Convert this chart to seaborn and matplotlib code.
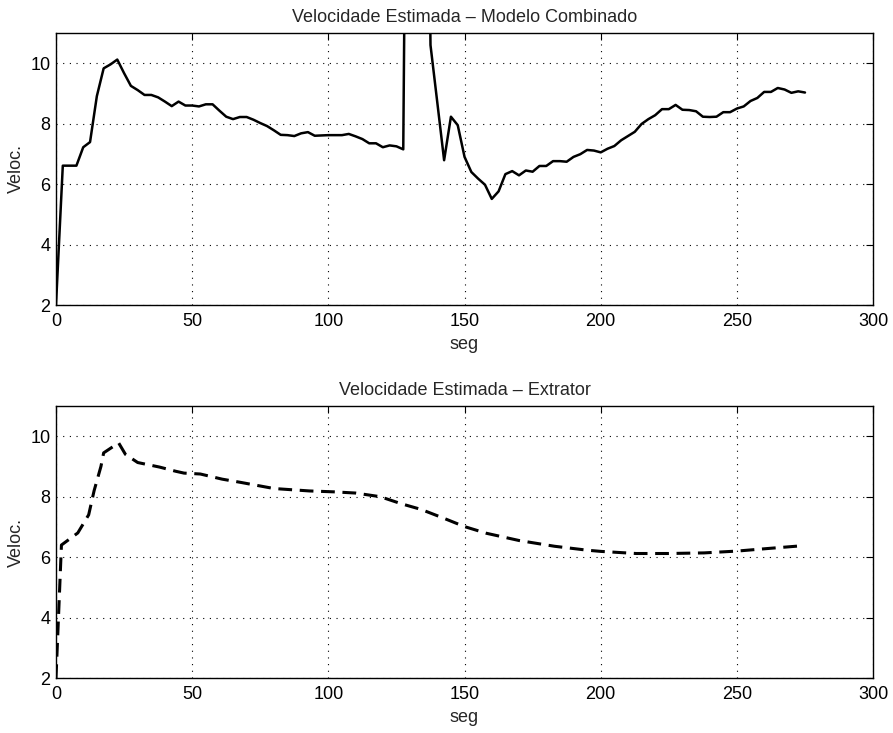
import matplotlib
matplotlib.use("Agg")
import matplotlib.pyplot as plt
import seaborn as sns
import pandas as pd

# ---- data ----
tempo_comb = [0, 2.5, 5, 7.5, 10, 12.5, 15, 17.5, 20, 22.5, 25, 27.5, 30, 32.5, 35, 37.5,
              40, 42.5, 45, 47.5, 50, 52.5, 55, 57.5, 60, 62.5, 65, 67.5, 70, 72.5, 75, 77.5,
              80, 82.5, 85, 87.5, 90, 92.5, 95, 97.5, 100, 102.5, 105, 107.5, 110, 112.5, 115,
              117.5, 120, 122.5, 125, 127.5, 130, 132.5, 135, 137.5, 140, 142.5, 145, 147.5,
              150, 152.5, 155, 157.5, 160, 162.5, 165, 167.5, 170, 172.5, 175, 177.5, 180,
              182.5, 185, 187.5, 190, 192.5, 195, 197.5, 200, 202.5, 205, 207.5, 210, 212.5,
              215, 217.5, 220, 222.5, 225, 227.5, 230, 232.5, 235, 237.5, 240, 242.5, 245,
              247.5, 250, 252.5, 255, 257.5, 260, 262.5, 265, 267.5, 270, 272.5, 275]
veloc_comb = [2.0, 6.61, 6.61, 6.61, 7.22, 7.39, 8.91, 9.83, 9.96, 10.12, 9.67, 9.25, 9.11, 8.95,
              8.95, 8.87, 8.73, 8.58, 8.73, 8.60, 8.60, 8.57, 8.64, 8.64, 8.43, 8.23, 8.15, 8.22,
              8.22, 8.13, 8.02, 7.92, 7.78, 7.63, 7.62, 7.59, 7.68, 7.72, 7.60, 7.61, 7.62, 7.62,
              7.62, 7.66, 7.58, 7.49, 7.35, 7.35, 7.22, 7.28, 7.25, 7.15, 35.0, 38.0, 30.0, 10.6,
              8.7, 6.79, 8.23, 7.95, 6.90, 6.40, 6.18, 5.98, 5.51, 5.76, 6.33, 6.43, 6.29, 6.45,
              6.41, 6.60, 6.60, 6.76, 6.76, 6.74, 6.90, 6.99, 7.13, 7.11, 7.05, 7.17, 7.26, 7.45,
              7.59, 7.73, 7.99, 8.15, 8.28, 8.48, 8.48, 8.62, 8.46, 8.45, 8.41, 8.23, 8.22, 8.23,
              8.38, 8.38, 8.50, 8.57, 8.75, 8.85, 9.05, 9.05, 9.18, 9.13, 9.02, 9.07, 9.03]

tempo_extr = [0, 2, 8, 12, 14, 16.5, 17.5, 20, 23, 25.5, 30, 38, 44, 47, 53, 61, 68, 80, 93,
              102, 110, 119, 127, 134, 142, 150, 158, 170, 183, 195, 200, 213, 225, 238, 250,
              262, 273]
veloc_extr = [2.0, 6.4, 6.8, 7.4, 8.2, 9.0, 9.45, 9.6, 9.78, 9.4, 9.13, 8.98, 8.84, 8.78, 8.75,
              8.58, 8.47, 8.27, 8.19, 8.16, 8.12, 8.0, 7.76, 7.58, 7.3, 7.01, 6.79, 6.55, 6.36,
              6.23, 6.19, 6.12, 6.12, 6.14, 6.2, 6.29, 6.37]

titulos = ["Velocidade Estimada \u2013 Modelo Combinado", "Velocidade Estimada \u2013 Extrator"]
xticks = [0, 50, 100, 150, 200, 250, 300]
yticks = [2, 4, 6, 8, 10]

df_comb = pd.DataFrame({"seg": tempo_comb, "Veloc.": veloc_comb})
df_extr = pd.DataFrame({"seg": tempo_extr, "Veloc.": veloc_extr})

sns.set_style("white")
plt.rcParams["font.family"] = ["Liberation Sans", "DejaVu Sans"]
plt.rcParams["font.size"] = 13

fig = plt.figure(figsize=(8.93, 7.33), dpi=100)
ax1 = fig.add_axes([0.0627, 0.5839, 0.915, 0.3711])
ax2 = fig.add_axes([0.0627, 0.0750, 0.915, 0.3711])

sns.lineplot(data=df_comb, x="seg", y="Veloc.", ax=ax1, color="black", linewidth=1.8,
             sort=False, estimator=None)
sns.lineplot(data=df_extr, x="seg", y="Veloc.", ax=ax2, color="black", linewidth=2.2,
             sort=False, estimator=None, linestyle=(0, (4.5, 2.5)))

for ax, t in zip([ax1, ax2], titulos):
    ax.set_xlim(0, 300)
    ax.set_ylim(2, 11)
    ax.set_xticks(xticks)
    ax.set_yticks(yticks)
    ax.set_title(t, fontsize=13, pad=8)
    ax.set_xlabel("seg", fontsize=13, labelpad=4)
    ax.set_ylabel("Veloc.", fontsize=13, labelpad=4)
    ax.grid(True, color="black", linestyle=(0, (1, 5)), linewidth=0.8)
    ax.tick_params(direction="in", length=5, width=0.8, top=True, right=True,
                   labelsize=13, colors="black")
    ax.tick_params(axis="x", pad=6)
    ax.tick_params(axis="y", pad=4)
    for s in ax.spines.values():
        s.set_visible(True)
        s.set_color("black")
        s.set_linewidth(1.0)

fig.savefig("out.png", dpi=100)
